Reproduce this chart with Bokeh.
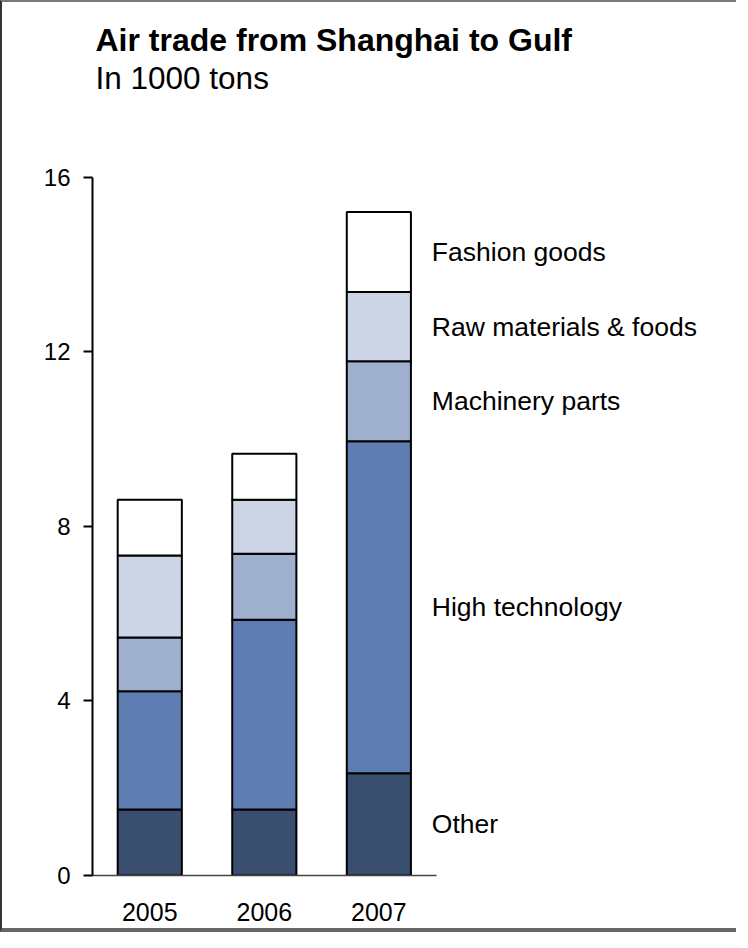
from bokeh.plotting import figure
from bokeh.models import Range1d, FixedTicker, Label, ColumnDataSource
from bokeh.core.properties import value
from bokeh.embed import file_html
from bokeh.resources import INLINE

# ---- data (1000 tons) ----
years = ["2005", "2006", "2007"]
series = ["Other", "High technology", "Machinery parts", "Raw materials & foods", "Fashion goods"]
other = [1.51, 1.51, 2.34]
high_technology = [2.71, 4.35, 7.61]
machinery_parts = [1.23, 1.51, 1.83]
raw_materials_foods = [1.88, 1.24, 1.59]
fashion_goods = [1.28, 1.05, 1.83]
y_ticks = [0, 4, 8, 12, 16]

colors = ["#3a4e6f", "#5e7db3", "#9eb0ce", "#ccd5e6", "#ffffff"]
FONT = "Liberation Sans"

xpos = [i + 0.5 for i in range(len(years))]
keys = ["other", "high", "mach", "raw", "fashion"]
src = ColumnDataSource(dict(x=xpos, other=other, high=high_technology, mach=machinery_parts,
                            raw=raw_materials_foods, fashion=fashion_goods))

p = figure(width=736, height=932, output_backend="svg", toolbar_location=None,
           x_range=Range1d(0, 5.64), y_range=Range1d(0, 20.0),
           min_border_left=90, min_border_right=0, min_border_top=0, min_border_bottom=59,
           styles={"border-top": "2px solid #7a7a7a", "border-left": "2px solid #333333",
                   "border-bottom": "4px solid #666666"})
p.outline_line_color = None
p.background_fill_color = "white"
p.border_fill_color = "white"
p.xgrid.grid_line_color = None
p.ygrid.grid_line_color = None

p.vbar_stack(keys, x="x", width=0.56, source=src, fill_color=colors,
             line_color="black", line_width=2)

# category labels centred on the last bar's segments
stacks = [other, high_technology, machinery_parts, raw_materials_foods, fashion_goods]
last = len(years) - 1
cum = 0.0
mids = []
for s in stacks:
    mids.append(cum + s[last] / 2.0)
    cum += s[last]
p.text(x=[xpos[last]] * len(series), y=mids, text=series, x_offset=53,
       text_font=value(FONT), text_font_size="26.5px", text_color="black",
       text_baseline="middle", text_align="left")

# y axis
ya = p.yaxis[0]
ya.ticker = FixedTicker(ticks=y_ticks)
ya.bounds = (y_ticks[0], y_ticks[-1])
ya.minor_tick_line_color = None
ya.major_tick_in = 0
ya.major_tick_out = 9
ya.major_tick_line_width = 2
ya.axis_line_width = 2
ya.axis_line_color = "black"
ya.major_tick_line_color = "black"
ya.major_label_text_font = FONT
ya.major_label_text_font_size = "24px"
ya.major_label_text_color = "black"
ya.major_label_standoff = 13

# x axis
xa = p.xaxis[0]
xa.ticker = FixedTicker(ticks=xpos)
xa.major_label_overrides = {xv: y for xv, y in zip(xpos, years)}
xa.bounds = (0, len(years))
xa.minor_tick_line_color = None
xa.major_tick_line_color = None
xa.major_tick_in = 0
xa.major_tick_out = 0
xa.axis_line_color = "#444444"
xa.axis_line_width = 1.5
xa.major_label_text_font = FONT
xa.major_label_text_font_size = "25px"
xa.major_label_text_color = "black"
xa.major_label_standoff = 27

# titles
p.add_layout(Label(x=3, y=836, x_units="screen", y_units="screen",
                   text="Air trade from Shanghai to Gulf", text_font=FONT,
                   text_font_size="32px", text_font_style="bold", text_color="black",
                   text_baseline="alphabetic"))
p.add_layout(Label(x=3, y=798, x_units="screen", y_units="screen",
                   text="In 1000 tons", text_font=FONT,
                   text_font_size="31.5px", text_color="black",
                   text_baseline="alphabetic"))

open("out.html", "w").write(file_html(p, INLINE))
